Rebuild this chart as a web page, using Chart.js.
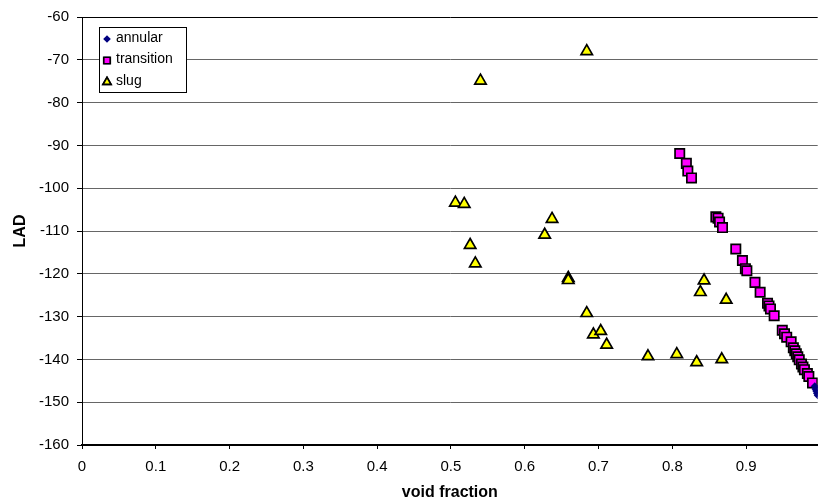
<!DOCTYPE html>
<html>
<head>
<meta charset="utf-8">
<script src="https://cdn.jsdelivr.net/npm/chart.js@4.4.1/dist/chart.umd.min.js"></script>
<style>
  html, body { margin: 0; padding: 0; background: #fff; overflow: hidden; }
  #wrap { width: 826px; height: 502px; position: relative; }
</style>
</head>
<body>
<div id="wrap"><canvas id="lad-chart"></canvas></div>
<script>
// void fraction / LAD readings per flow regime
const annularX = [0.993, 0.994, 0.995, 0.996, 0.997, 0.998, 0.999];
const annularY = [-146.3, -146.9, -147.4, -147.9, -148.4, -149.0, -149.5];

const transitionX = [
	0.810, 0.819, 0.821, 0.826,
	0.859, 0.862, 0.864, 0.868,
	0.886, 0.895, 0.899, 0.901,
	0.912, 0.919, 0.929, 0.931, 0.933, 0.938,
	0.949, 0.952, 0.955, 0.961, 0.964, 0.966, 0.968, 0.970,
	0.972, 0.975, 0.977, 0.979, 0.983, 0.985, 0.990
];
const transitionY = [
	-91.9, -94.2, -96.0, -97.6,
	-106.7, -107.0, -107.9, -109.2,
	-114.2, -116.9, -118.8, -119.3,
	-122.0, -124.3, -126.9, -127.5, -128.2, -129.8,
	-133.2, -134.0, -134.8, -135.9, -137.3, -138.0, -138.7, -139.4,
	-140.1, -141.1, -141.8, -142.4, -143.3, -144.0, -145.5
];

const slugX = [
	0.684, 0.540, 0.506, 0.518, 0.637, 0.627, 0.526, 0.533, 0.659, 0.659,
	0.684, 0.693, 0.703, 0.711, 0.767, 0.806, 0.833, 0.867, 0.843, 0.838, 0.873
];
const slugY = [
	-68.0, -74.9, -103.4, -103.7, -107.2, -110.9, -113.3, -117.6, -121.0, -121.5,
	-129.2, -134.2, -133.4, -136.6, -139.3, -138.8, -140.7, -140.0, -121.6, -124.3, -126.1
];

const yTicks = [-160, -150, -140, -130, -120, -110, -100, -90, -80, -70, -60];

const FONT = "'Liberation Sans', Arial, sans-serif";

const toPoints = (xs, ys) => xs.map((x, i) => ({ x: x, y: ys[i] }));

// legend box drawn inside the plot, top left
const boxLegend = {
	id: 'boxLegend',
	afterDraw(chart) {
		const ctx = chart.ctx;
		const left = 99, top = 27, w = 87, h = 65;
		ctx.save();
		ctx.fillStyle = '#fff';
		ctx.fillRect(left, top, w, h);
		ctx.strokeStyle = '#000';
		ctx.lineWidth = 1;
		ctx.strokeRect(left + 0.5, top + 0.5, w, h);

		ctx.font = '14px ' + FONT;
		ctx.textBaseline = 'middle';
		chart.data.datasets.forEach((ds, i) => {
			const cy = 38 + i * 21.5;
			const r = ds.pointStyle === 'rectRot' ? 3.8 : (ds.pointStyle === 'rect' ? 4.6 : 4.6);
			Chart.helpers.drawPoint(ctx, {
				pointStyle: ds.pointStyle,
				radius: r,
				borderWidth: ds.pointBorderWidth
			}, 107, cy + 1);
			ctx.fillStyle = ds.pointBackgroundColor;
			ctx.strokeStyle = ds.pointBorderColor;
			ctx.lineWidth = ds.pointBorderWidth;
			ctx.fill();
			if (ds.pointBorderWidth) ctx.stroke();
			ctx.fillStyle = '#000';
			ctx.fillText(ds.label, 116, cy);
		});
		ctx.restore();
	}
};

const ctx = document.getElementById('lad-chart').getContext('2d');

new Chart(ctx, {
	type: 'scatter',
	data: {
		datasets: [
			{
				label: 'annular',
				data: toPoints(annularX, annularY),
				pointStyle: 'rectRot',
				pointRadius: 4,
				pointBackgroundColor: '#000080',
				pointBorderColor: '#000080',
				pointBorderWidth: 0
			},
			{
				label: 'transition',
				data: toPoints(transitionX, transitionY),
				pointStyle: 'rect',
				pointRadius: 6.6,
				pointBackgroundColor: '#ff00ff',
				pointBorderColor: '#000',
				pointBorderWidth: 1.7
			},
			{
				label: 'slug',
				data: toPoints(slugX, slugY),
				pointStyle: 'triangle',
				pointRadius: 6.6,
				pointBackgroundColor: '#ffff00',
				pointBorderColor: '#000',
				pointBorderWidth: 1.7
			}
		]
	},
	options: {
		responsive: true,
		maintainAspectRatio: false,
		animation: false,
		layout: {
			padding: { top: 15, right: 0, left: 11, bottom: 0 }
		},
		plugins: {
			legend: { display: false },
			tooltip: { enabled: false }
		},
		scales: {
			x: {
				type: 'linear',
				min: 0,
				max: 0.997,
				afterFit: (scale) => { scale.height = 57; },
				ticks: {
					stepSize: 0.1,
					includeBounds: false,
					color: '#000',
					padding: 9,
					font: { family: FONT, size: 15 },
					callback: (v) => Math.round(v * 10) / 10
				},
				grid: {
					drawOnChartArea: false,
					drawTicks: true,
					tickLength: 4,
					color: '#000'
				},
				border: { color: '#000', width: 2 },
				title: {
					display: true,
					text: 'void fraction',
					color: '#000',
					padding: { top: 2, bottom: 0 },
					font: { family: FONT, size: 16, weight: 'bold' }
				}
			},
			y: {
				type: 'linear',
				min: -160,
				max: -60,
				afterFit: (scale) => { scale.width = 71; },
				afterBuildTicks: (scale) => {
					scale.ticks = yTicks.map(v => ({ value: v }));
				},
				ticks: {
					color: '#000',
					padding: 8,
					font: { family: FONT, size: 15 }
				},
				grid: {
					color: (c) => c.tick && c.tick.value === -60 ? '#000' : '#666',
					lineWidth: 1,
					tickLength: 5,
					tickColor: '#000'
				},
				border: { color: '#000', width: 1 },
				title: {
					display: true,
					text: 'LAD',
					color: '#000',
					padding: { top: 0, bottom: 4 },
					font: { family: FONT, size: 16, weight: 'bold' }
				}
			}
		}
	},
	plugins: [boxLegend]
});
</script>
</body>
</html>
